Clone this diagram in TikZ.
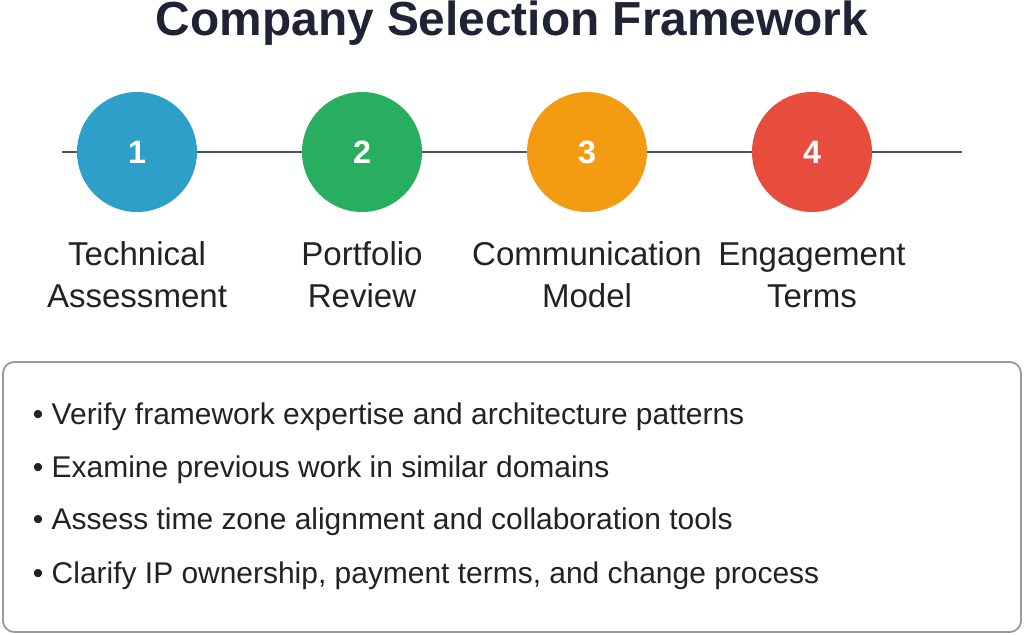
\documentclass[tikz,border=0pt]{standalone}
\usepackage{fontspec}
\setmainfont{Liberation Sans}
\definecolor{ttl}{HTML}{1F2335}
\definecolor{txt}{HTML}{222222}
\definecolor{ln}{HTML}{4A5568}
\definecolor{c1}{HTML}{2E9FC9}
\definecolor{c2}{HTML}{27AE60}
\definecolor{c3}{HTML}{F39C12}
\definecolor{c4}{HTML}{E74C3C}
\begin{document}
\begin{tikzpicture}[x=0.025cm,y=-0.025cm,
  stepc/.style={circle,minimum size=120*0.025cm,inner sep=0pt,text=white,font=\fontsize{23}{26}\selectfont\bfseries},
  lab/.style={align=center,text=txt,font=\fontsize{23.5}{30}\selectfont},
  bul/.style={anchor=west,text=txt,font=\fontsize{21.3}{24}\selectfont}]
\useasboundingbox (0,0) rectangle (1024,634);
\node[text=ttl,font=\fontsize{34}{38}\selectfont\bfseries,inner sep=0pt] (title) at (512,23) {Company Selection Framework};
\coordinate (l0) at (62,152); \coordinate (l1) at (962,152);
\draw[ln,line width=1.5pt] (l0) -- (l1);
\foreach \i/\x/\c/\t in {1/137/c1/{Technical\\Assessment},2/362/c2/{Portfolio\\Review},3/587/c3/{Communication\\Model},4/812/c4/{Engagement\\Terms}}{
  \node[stepc,fill=\c] (s\i) at (\x,152) {\i};
  \node[lab] (t\i) at (\x,275) {\t};
}
\draw[rounded corners=8pt,draw=gray!80,line width=1.3pt,fill=white] (3,362) rectangle (1021,632);
\node[bul] (b1) at (28,417) {• Verify framework expertise and architecture patterns};
\node[bul] (b2) at (28,470) {• Examine previous work in similar domains};
\node[bul] (b3) at (28,522) {• Assess time zone alignment and collaboration tools};
\node[bul] (b4) at (28,576) {• Clarify IP ownership, payment terms, and change process};
\end{tikzpicture}
\end{document}
